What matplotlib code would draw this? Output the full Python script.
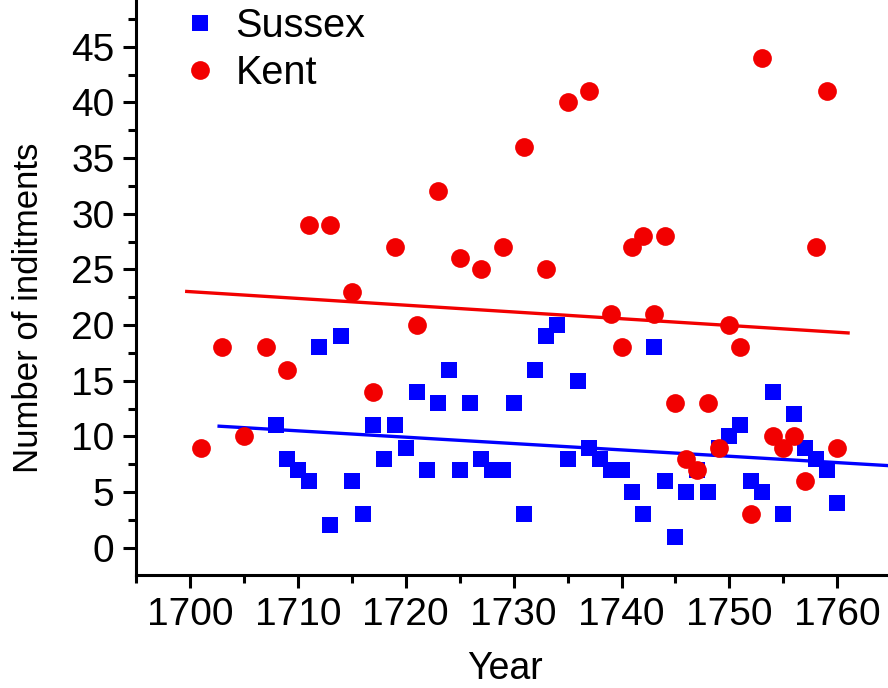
import matplotlib
matplotlib.use("Agg")
import matplotlib.pyplot as plt
import numpy as np
from matplotlib.ticker import MultipleLocator

plt.rcParams['font.family'] = ['Liberation Sans', 'DejaVu Sans']

# Annual number of indictments
sussex_years = list(range(1708, 1761))
sussex_counts = [11, 8, 7, 6, 18, 2, 19, 6, 3, 11,
                 8, 11, 9, 14, 7, 13, 16, 7, 13, 8,
                 7, 7, 13, 3, 16, 19, 20, 8, 15, 9,
                 8, 7, 7, 5, 3, 18, 6, 1, 5, 7,
                 5, 9, 10, 11, 6, 5, 14, 3, 12, 9,
                 8, 7, 4]

kent_years = list(range(1701, 1740, 2)) + list(range(1740, 1761))
kent_counts = [9, 18, 10, 18, 16, 29, 29, 23, 14, 27,
               20, 32, 26, 25, 27, 36, 25, 40, 41, 21,
               18, 27, 28, 21, 28, 13, 8, 7, 13, 9,
               20, 18, 3, 44, 10, 9, 10, 6, 27, 41, 9]

# Year span over which each linear trend is drawn
sussex_fit_span = [1702.7, 1767]
kent_fit_span = [1699.7, 1761]

blue = '#0000ff'
red = '#f20000'

fig = plt.figure(figsize=(8.88, 6.88), dpi=100)
ax = fig.add_axes([0.1532, 0.1642, 0.8468, 0.8358])

ax.plot(sussex_years, sussex_counts, linestyle='none', marker='s',
        markersize=12, color=blue, markeredgewidth=0, label='Sussex', zorder=3)
ax.plot(kent_years, kent_counts, linestyle='none', marker='o',
        markersize=13.5, color=red, markeredgewidth=0, label='Kent', zorder=4)

# Linear trends
for yrs, vals, span, c in [(sussex_years, sussex_counts, sussex_fit_span, blue),
                           (kent_years, kent_counts, kent_fit_span, red)]:
    slope, icpt = np.polyfit(yrs, vals, 1)
    xs = np.array(span)
    ax.plot(xs, slope * xs + icpt, color=c, linewidth=2.4, zorder=2)

ax.set_xlim(1695, 1764.7)
ax.set_ylim(-2.45, 49.2)

ax.xaxis.set_major_locator(MultipleLocator(10))
ax.xaxis.set_minor_locator(MultipleLocator(5))
ax.yaxis.set_major_locator(MultipleLocator(5))
ax.yaxis.set_minor_locator(MultipleLocator(2.5))

for s in ['top', 'right']:
    ax.spines[s].set_visible(False)
for s in ['left', 'bottom']:
    ax.spines[s].set_linewidth(2.2)

ax.tick_params(which='major', direction='out', length=9.5, width=2.2)
ax.tick_params(which='minor', direction='out', length=5.5, width=2.2)
ax.tick_params(axis='x', which='major', labelsize=28, pad=6)
ax.tick_params(axis='y', which='major', labelsize=28, pad=6)

fig.text(0.569, 0.027, 'Year', fontsize=27, ha='center', va='center')
fig.text(0.032, 0.553, 'Number of inditments', fontsize=25, rotation=90,
         ha='center', va='center')

leg = ax.legend(loc='upper left', bbox_to_anchor=(0.207, 0.99),
                bbox_transform=fig.transFigure, frameon=False, fontsize=28.5,
                handlelength=0.8, handletextpad=0.5, labelspacing=0.22,
                borderaxespad=0, borderpad=0.0, numpoints=1)

fig.savefig('out.png', dpi=100)
